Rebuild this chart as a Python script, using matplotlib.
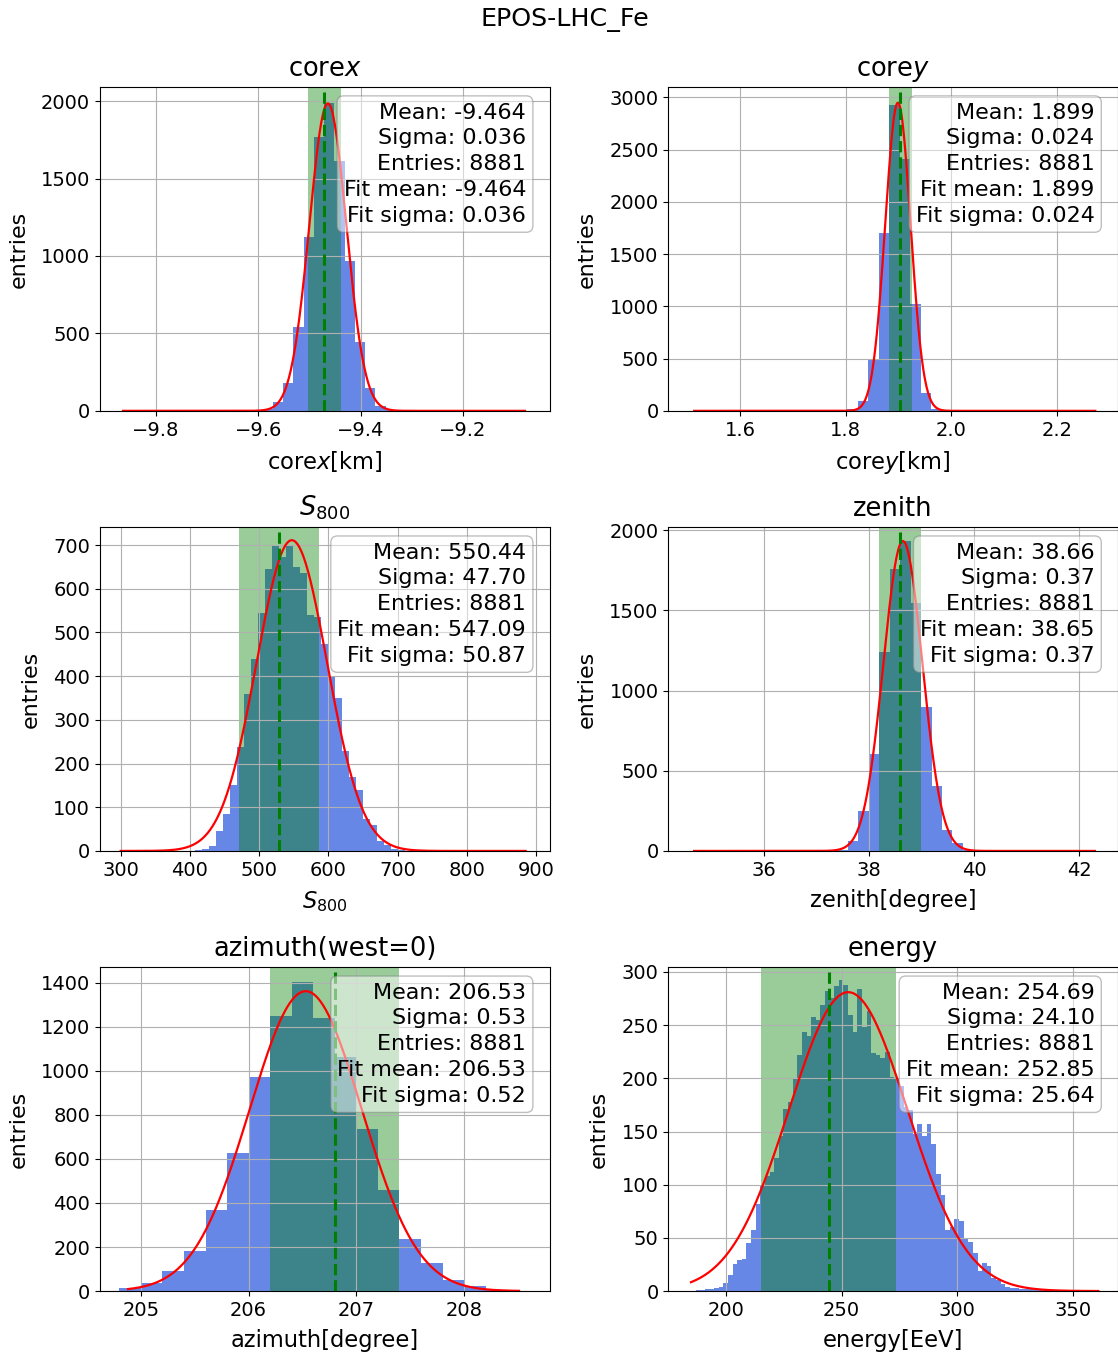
import matplotlib
matplotlib.use('Agg')
import matplotlib.pyplot as plt
import numpy as np

# ---- corex ----
corex_left = -9.5914
corex_width = 0.0200
corex_counts = [10, 55, 177, 544, 1122, 1769, 1990, 1615, 965, 442, 149, 32, 8]
corex_span = (-9.502, -9.439)
corex_line = -9.472
corex_fit = (1985, -9.464, 0.036)
corex_fitrange = (-9.864, -9.079)
corex_xlim = (-9.909, -9.031)
corex_ylim = (0, 2091)
corex_stats = ['-9.464', '0.036', '8881', '-9.464', '0.036']

# ---- corey ----
corey_left = 1.8034
corey_width = 0.0199
corey_counts = [15, 90, 497, 1703, 2930, 2415, 1025, 170, 20]
corey_span = (1.882, 1.926)
corey_line = 1.9025
corey_fit = (2950, 1.899, 0.024)
corey_fitrange = (1.513, 2.273)
corey_xlim = (1.464, 2.316)
corey_ylim = (0, 3100)
corey_stats = ['1.899', '0.024', '8881', '1.899', '0.024']

# ---- S800 ----
s800_left = 407.7
s800_width = 10.08
s800_counts = [2, 4, 11, 46, 85, 150, 238, 359, 440, 545, 644, 697, 673, 698, 650,
               635, 539, 535, 473, 400, 350, 228, 169, 139, 73, 60, 22, 14, 5, 2]
s800_span = (470.2, 586.0)
s800_line = 528.3
s800_fit = (711, 547.09, 50.87)
s800_fitrange = (300.0, 884.6)
s800_xlim = (270.1, 919.2)
s800_ylim = (0, 741)
s800_stats = ['550.44', '47.70', '8881', '547.09', '50.87']

# ---- zenith ----
zen_left = 37.405
zen_width = 0.1989
zen_counts = [8, 60, 247, 606, 1238, 1758, 1930, 1547, 896, 406, 132, 47, 8]
zen_span = (38.194, 39.0)
zen_line = 38.60
zen_fit = (1932, 38.65, 0.37)
zen_fitrange = (34.68, 42.30)
zen_xlim = (34.19, 42.74)
zen_ylim = (0, 2019)
zen_stats = ['38.66', '0.37', '8881', '38.65', '0.37']

# ---- azimuth ----
azi_left = 204.8
azi_width = 0.2
azi_counts = [15, 36, 89, 184, 366, 627, 970, 1249, 1405, 1242, 1065, 736, 459,
              237, 127, 48, 21, 5]
azi_span = (206.197, 207.396)
azi_line = 206.806
azi_fit = (1362, 206.53, 0.52)
azi_fitrange = (204.88, 208.51)
azi_xlim = (204.62, 208.794)
azi_ylim = (0, 1471)
azi_stats = ['206.53', '0.53', '8881', '206.53', '0.52']

# ---- energy ----
en_left = 184.8
en_width = 2.0
en_counts = [0, 1, 1, 2, 2, 3, 4,
             8, 15, 25, 29, 30, 45, 57, 82,
             100, 108, 112, 125, 146, 171, 178, 200, 222, 244,
             240, 258, 255, 269, 282, 276, 287, 292, 288, 260,
             244, 284, 248, 263, 224, 222, 219, 225, 201, 200,
             193, 173, 170, 148, 157, 146, 157, 138, 110, 90,
             57, 60, 68, 66, 49, 46, 36, 19, 26, 24,
             12, 10, 7, 4, 3, 3, 2, 2, 2, 1, 1, 1, 1,
             0, 1, 0, 0, 1, 0, 0, 0, 0, 1]
en_span = (214.9, 273.7)
en_line = 244.4
en_fit = (281, 252.85, 25.64)
en_fitrange = (184.8, 361.1)
en_xlim = (175.0, 369.6)
en_ylim = (0, 304.5)
en_stats = ['254.69', '24.10', '8881', '252.85', '25.64']

titles = ['core$x$', 'core$y$', '$S_{800}$', 'zenith', 'azimuth(west=0)', 'energy']
xlabels = ['core$x$[km]', 'core$y$[km]', '$S_{800}$', 'zenith[degree]',
           'azimuth[degree]', 'energy[EeV]']
stat_names = ['Mean', 'Sigma', 'Entries', 'Fit mean', 'Fit sigma']

panels = [
    (corex_left, corex_width, corex_counts, corex_span, corex_line, corex_fit,
     corex_fitrange, corex_xlim, corex_ylim, corex_stats),
    (corey_left, corey_width, corey_counts, corey_span, corey_line, corey_fit,
     corey_fitrange, corey_xlim, corey_ylim, corey_stats),
    (s800_left, s800_width, s800_counts, s800_span, s800_line, s800_fit,
     s800_fitrange, s800_xlim, s800_ylim, s800_stats),
    (zen_left, zen_width, zen_counts, zen_span, zen_line, zen_fit,
     zen_fitrange, zen_xlim, zen_ylim, zen_stats),
    (azi_left, azi_width, azi_counts, azi_span, azi_line, azi_fit,
     azi_fitrange, azi_xlim, azi_ylim, azi_stats),
    (en_left, en_width, en_counts, en_span, en_line, en_fit,
     en_fitrange, en_xlim, en_ylim, en_stats),
]

fig = plt.figure(figsize=(11.18, 13.53), dpi=100)
gs = fig.add_gridspec(3, 2, left=0.0894, right=1.0, bottom=0.0458, top=0.9357,
                      wspace=0.264, hspace=0.359)

for i, (left, width, counts, span, vline, fit, frange, xl, yl, stats) in enumerate(panels):
    ax = fig.add_subplot(gs[i // 2, i % 2])
    edges = left + width * np.arange(len(counts) + 1)
    ax.hist(edges[:-1], bins=edges, weights=counts, color='royalblue', alpha=0.8)
    ax.axvspan(span[0], span[1], color='green', alpha=0.4, lw=0)
    xs = np.linspace(frange[0], frange[1], 500)
    amp, mu, sig = fit
    ax.plot(xs, amp * np.exp(-0.5 * ((xs - mu) / sig) ** 2), color='red', lw=1.6)
    ax.axvline(vline, ymax=0.985, color='green', ls='--', lw=2.2)
    ax.set_xlim(xl)
    ax.set_ylim(yl)
    ax.grid(True)
    ax.tick_params(labelsize=14)
    ax.set_title(titles[i], fontsize=18.5, pad=8)
    ax.set_xlabel(xlabels[i], fontsize=16.3, labelpad=7)
    ax.set_ylabel('entries', fontsize=16, labelpad=9)
    txt = '\n'.join(f'{n}: {v}' for n, v in zip(stat_names, stats))
    ax.text(0.948, 0.952, txt, transform=ax.transAxes, ha='right', va='top',
            fontsize=16, linespacing=1.36, multialignment='right',
            bbox=dict(boxstyle='round,pad=0.3', facecolor='white',
                      edgecolor='gray', alpha=0.5))

fig.text(0.505, 0.9855, 'EPOS-LHC_Fe', ha='center', va='center', fontsize=18.3)
fig.savefig('out.png', dpi=100)
